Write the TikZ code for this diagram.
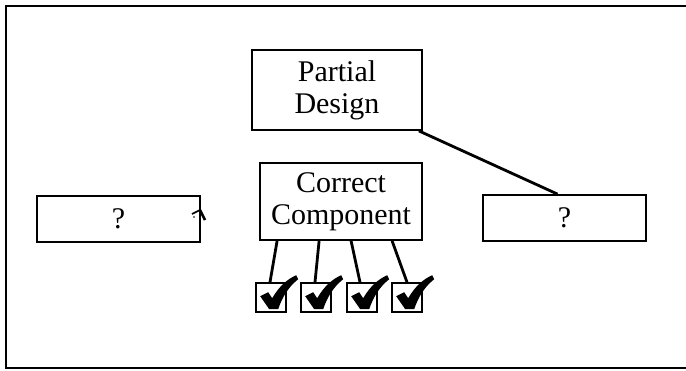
\documentclass[tikz,border=0pt]{standalone}
\usepackage{fontspec}
\setmainfont{Liberation Serif}
\usetikzlibrary{calc}
\begin{document}
\begin{tikzpicture}[x=1pt,y=-1pt,
  box/.style={draw,line width=1.8pt,inner sep=0pt,align=center,font=\fontsize{30}{32}\selectfont},
  chk/.style={draw,line width=1.6pt,minimum width=30pt,minimum height=29pt,inner sep=0pt},
  conn/.style={line width=2.8pt}]
\useasboundingbox (0,0) rectangle (686,370);
% outer frame (right side cut off)
\draw[line width=2.4pt] (690,6) -- (6,6) -- (6,368) -- (690,368);
% nodes
\node[box,minimum width=170pt,minimum height=80pt] (pd) at (337,90) {Partial\\Design};
\node[box,minimum width=162pt,minimum height=77pt] (cc) at (341,201.5) {Correct\\Component};
\node[box,minimum width=163pt,minimum height=46pt] (lq) at (118.5,219) {?};
\node[box,minimum width=163pt,minimum height=46pt] (rq) at (564.5,218) {?};
\foreach \i/\x in {1/271,2/316,3/362,4/407}{
  \node[chk] (k\i) at (\x,297.5) {};
}
% connectors
\draw[conn] ($(pd.south east)+(-4,0)$) -- ($(rq.north)+(-7,0)$);
\draw[conn] ($(cc.south west)+(18,0)$) -- ($(k1.north)+(-1,0)$);
\draw[conn] ($(cc.south west)+(60,0)$) -- ($(k2.north)+(-1,0)$);
\draw[conn] ($(cc.south west)+(92,0)$) -- ($(k3.north)+(-2,0)$);
\draw[conn] ($(cc.south west)+(133,0)$) -- (k4.north);
% check marks
\foreach \i in {1,2,3,4}{
  \fill ($(k\i.north west)+(5,14)$) -- ++(8,-4) -- ++(4,6)
    .. controls ++(7,-12) and ++(-9,4) .. ++(24,-23) -- ++(2,4)
    .. controls ++(-10,8) and ++(4,-12) .. ++(-20,30) -- ++(-9,0) -- cycle;
}
% stray mark
\draw[line width=1.6pt] (192,214) -- (200,210);
\draw[line width=2.6pt] (200,210) -- (205,220);
\fill (194,217) circle (0.9);
\end{tikzpicture}
\end{document}
